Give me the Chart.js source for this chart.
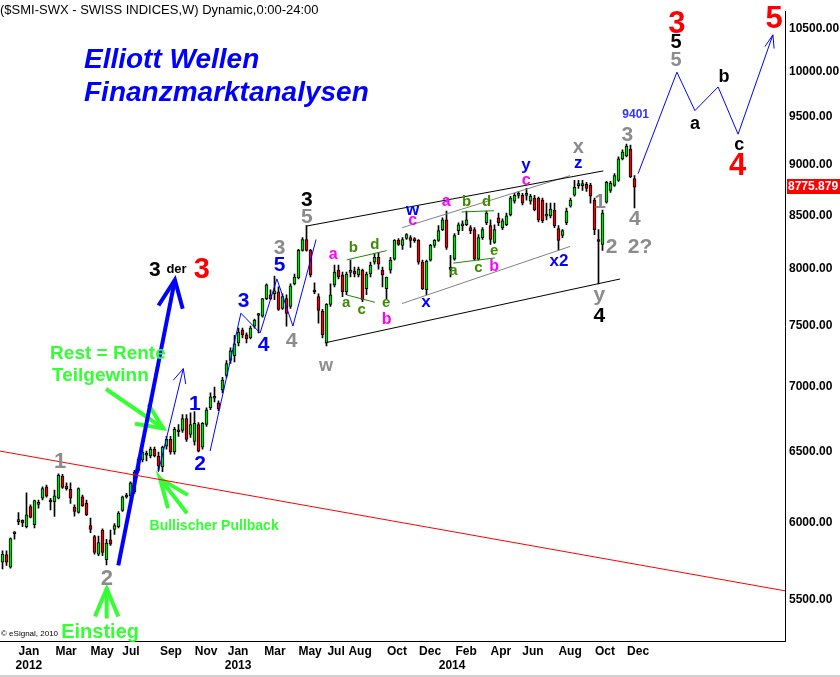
<!DOCTYPE html>
<html>
<head>
<meta charset="utf-8">
<script src="https://cdn.jsdelivr.net/npm/chart.js@4.4.0/dist/chart.umd.min.js"></script>
<style>
  html, body { margin: 0; padding: 0; background: #fff; }
</style>
</head>
<body>
<canvas id="smiChart" width="840" height="677"></canvas>
<script>
// SMI weekly candles, Nov 2011 - Dec 2014
const opens = [5738,5787,5706,5926,6008,6017,5973,6111,5988,6127,6169,6250,6148,6146,6169,6327,6254,6231,6107,6071,
  6180,6134,5981,5907,5791,5951,5755,5885,5955,5973,6084,6178,6187,6215,6367,6443,6477,6472,6522,6472,
  6393,6544,6595,6501,6658,6662,6752,6632,6580,6707,6537,6707,6835,6909,6873,6974,7091,7211,7251,7357,
  7465,7423,7398,7498,7588,7582,7735,7769,7778,7795,7650,7735,7667,7865,7918,8170,8271,8170,7797,7752,
  7624,7357,7684,7856,7989,7945,7795,7969,7980,7945,7989,7822,7954,8061,8106,7989,7822,7989,8088,8262,
  8216,8280,8289,8271,8262,8061,7813,8079,8216,8262,8363,8457,7996,8088,8354,8399,8410,8382,8363,8088,
  8289,8429,8401,8243,8476,8382,8410,8504,8638,8694,8696,8694,8638,8667,8667,8648,8493,8495,8552,8373,
  8308,8429,8590,8696,8791,8791,8803,8793,8648,8271,8225,8629,8744,8793,8842,9062,9093,9164,8862];
const highs = [5813,5813,5898,5940,6070,6021,6208,6123,6157,6157,6250,6262,6169,6226,6343,6338,6278,6278,6123,6243,
  6192,6157,6033,5915,5911,5959,5889,5951,5994,6077,6184,6203,6285,6367,6462,6515,6508,6537,6537,6501,
  6544,6617,6617,6685,6707,6782,6782,6797,6805,6722,6722,6835,6951,6997,6889,7075,7211,7316,7420,7481,
  7481,7440,7498,7557,7607,7735,7865,7813,7936,7839,7778,7769,7865,7954,8179,8289,8401,8179,7874,7778,
  7641,7692,7865,8034,8034,7971,7971,8079,8016,8016,7998,7971,8061,8143,8152,8016,7927,8106,8271,8280,
  8289,8326,8308,8289,8271,8079,8079,8225,8271,8401,8476,8542,8124,8326,8429,8448,8542,8401,8382,8317,
  8382,8542,8457,8410,8523,8466,8523,8686,8715,8734,8715,8764,8705,8696,8677,8667,8619,8619,8619,8401,
  8363,8571,8667,8843,8843,8843,8823,8813,8667,8363,8552,8833,8833,8912,9082,9154,9215,9205,8892];
const lows = [5695,5717,5700,5889,5988,5973,5966,6033,5966,6100,6157,6176,6089,6044,6164,6238,6226,6134,6045,6066,
  6112,6048,5933,5791,5781,5781,5721,5849,5922,5966,6077,6169,6169,6203,6355,6428,6436,6457,6465,6365,
  6357,6522,6486,6486,6617,6647,6580,6610,6551,6501,6522,6692,6820,6881,6812,6951,7075,7187,7200,7332,
  7398,7357,7390,7481,7440,7574,7726,7726,7726,7633,7641,7498,7650,7856,7909,8161,8161,7927,7778,7523,
  7398,7332,7667,7839,7909,7752,7769,7927,7927,7927,7709,7769,7927,8043,7998,7839,7735,7962,8079,8216,
  8179,8271,8197,8243,8043,7813,7769,8070,8197,8252,8354,8179,7927,8079,8317,8354,8401,8326,8079,8079,
  8271,8410,8225,8234,8401,8363,8401,8495,8619,8667,8600,8648,8609,8542,8438,8429,8457,8476,8382,8170,
  8289,8410,8580,8686,8764,8744,8734,8619,8317,7865,8170,8619,8725,8783,8833,9052,9082,8872,8571];
const closes = [5791,5738,5893,5937,6013,5999,6055,6037,6153,6132,6238,6184,6143,6187,6331,6245,6236,6169,6078,6238,
  6116,6055,5955,5802,5867,5802,5863,5856,5981,6066,6180,6183,6278,6355,6450,6501,6481,6522,6472,6400,
  6537,6595,6501,6670,6652,6752,6595,6707,6715,6508,6715,6820,6920,6914,6828,7052,7187,7291,7349,7448,
  7423,7390,7481,7549,7593,7735,7856,7735,7804,7641,7752,7607,7848,7927,8170,8271,8170,7945,7793,7633,
  7423,7684,7769,7971,7927,7795,7954,7973,7954,7998,7726,7954,8034,8106,8043,7945,7927,8079,8262,8225,
  8271,8317,8262,8260,8061,7822,8070,8216,8262,8354,8457,8197,8000,8308,8410,8403,8457,8354,8088,8289,
  8363,8523,8271,8363,8429,8448,8495,8667,8696,8698,8619,8698,8686,8552,8457,8448,8497,8561,8401,8262,
  8354,8542,8648,8774,8795,8795,8764,8686,8363,8252,8523,8823,8813,8892,9062,9133,9195,8882,8775.879];

// axis ticks
const priceTicks = [5500, 6000, 6500, 7000, 7500, 8000, 8500, 9000, 9500, 10000, 10500];
const tickWeeks = [6.6, 15.9, 24.9, 32.1, 42.1, 50.9, 58.9, 68.1, 76.9, 83.4, 89.4, 98.6, 106.9, 112.4, 115.9, 124.6, 132.6, 141.9, 150.6, 158.9];
const monthLabels = ['Jan','Mar','May','Jul','Sep','Nov','Jan','Mar','May','Jul','Aug','Oct','Dec','','Feb','Apr','Jun','Aug','Oct','Dec'];
const yearLabels = ['2012','','','','','','2013','','','','','','','2014','','','','','',''];

// drawn lines, as [week, price] points
const redTrend = [[-0.625, 6508], [195.625, 5555]];
const bigArrow = [[28.95, 5717], [43.1, 7900]];
const bigArrowHead = [[39.0, 7675], [43.1, 7900], [45.05, 7646]];
const thinArrow = [[38.95, 6355], [45.2, 7145]];
const thinArrowHead = [[42.7, 7052], [45.2, 7145], [45.8, 7021]];
const waveZigzag = [[51.9, 6508], [59.6, 7608], [64.4, 7440], [68.6, 7910], [72.6, 7498], [78.4, 8271]];
const projection = [[158.9, 8912], [168.6, 9997], [173.1, 9571], [178.9, 9831], [183.9, 9319], [192.6, 10429]];
const projectionHead = [[190.6, 10291], [192.6, 10429], [192.9, 10268]];
const channelTop = [[76.05, 8398], [150.2, 8939]];
const channelBottom = [[80.6, 7357], [154.4, 7909]];
const greyTop = [[99.9, 8382], [141.9, 8892]];
const greyBottom = [[99.9, 7692], [141.9, 8206]];
const triangleLines = [
  [[86.05, 8082], [96.05, 8167]],
  [[86.05, 7767], [93.1, 7703]],
  [[112.7, 8052], [123.1, 8100]],
  [[114.8, 8533], [122.9, 8545]]
];
const restArrow = [[25.875, 6982], [40.2, 6677]];
const restArrowHead = [[36.45, 6863], [40.2, 6677], [33.125, 6712]];
const pullbackArrowA = [[41.375, 6100], [39.375, 6308], [46.125, 6066]];
const pullbackArrowB = [[39.375, 6308], [46.375, 6191]];
const entryArrow = [[26.05, 5384], [26.05, 5569]];
const entryArrowHead = [[23.125, 5396], [26.05, 5569], [28.95, 5396]];

const GREY = '#8c8c8c', BLUE = '#0000ff', MAG = '#ff00ff', OLIVE = '#3c8c00', LIME = '#33ff33', RED = '#ff0000', BLACK = '#000';

// wave labels: text, week, price, colour, size
const waveLabels = [
  ['1', 14.4, 6428, GREY, 22], ['2', 26.1, 5630, GREY, 22],
  ['Einstieg', 24.4, 5301, LIME, 20], ['Bullischer Pullback', 52.9, 5979, LIME, 14],
  ['3', 38.1, 7989, BLACK, 21], ['der', 43.5, 7998, BLACK, 13], ['3', 49.8, 7989, RED, 29],
  ['1', 48.1, 6862, BLUE, 21], ['2', 49.4, 6414, BLUE, 21], ['3', 60.25, 7714, BLUE, 21],
  ['4', 65.25, 7336, BLUE, 21], ['5', 69.25, 8034, BLUE, 21],
  ['3', 69.25, 8192, GREY, 21], ['4', 72.25, 7373, GREY, 21], ['5', 76.1, 8486, GREY, 21], ['3', 76.1, 8648, BLACK, 21],
  ['w', 80.9, 7163, GREY, 18],
  ['a', 82.7, 8133, MAG, 16], ['b', 96.05, 7556, MAG, 16], ['c', 102.55, 8454, MAG, 16],
  ['a', 110.9, 8635, MAG, 16], ['b', 122.9, 8022, MAG, 16], ['c', 130.9, 8838, MAG, 16],
  ['b', 87.7, 8197, OLIVE, 15], ['d', 93.1, 8219, OLIVE, 15], ['a', 85.9, 7700, OLIVE, 15],
  ['c', 89.8, 7639, OLIVE, 15], ['e', 95.9, 7694, OLIVE, 15],
  ['b', 116.05, 8635, OLIVE, 15], ['d', 121.05, 8635, OLIVE, 15], ['a', 112.7, 7986, OLIVE, 15],
  ['c', 118.95, 8007, OLIVE, 15], ['e', 122.9, 8167, OLIVE, 15],
  ['w', 102.55, 8545, BLUE, 17], ['x', 105.9, 7703, BLUE, 17], ['y', 130.9, 8994, BLUE, 17],
  ['z', 143.95, 9019, BLUE, 17], ['x2', 139.1, 8068, BLUE, 17],
  ['x', 143.95, 9175, GREY, 20], ['1', 149.4, 8629, GREY, 21], ['2', 152.3, 8197, GREY, 21],
  ['y', 149.2, 7767, GREY, 21], ['4', 149.2, 7582, BLACK, 21],
  ['3', 156.2, 9310, GREY, 21], ['4', 158.1, 8460, GREY, 21], ['2?', 159.4, 8197, GREY, 21],
  ['9401', 158.3, 9529, '#3333ff', 12],
  ['a', 173.1, 9423, BLACK, 18], ['b', 180.4, 9941, BLACK, 18], ['c', 184.2, 9208, BLACK, 18],
  ['4', 183.8, 8980, RED, 31],
  ['5', 168.4, 10337, BLACK, 20], ['5', 168.4, 10131, GREY, 20], ['3', 168.6, 10558, RED, 31],
  ['5', 192.9, 10617, RED, 31]
];
const leftLabels = [
  ['Rest = Rente', 11.9, 7267, LIME, 19],
  ['Teilgewinn', 12.375, 7091, LIME, 19]
];

const FONT = "Arial, 'Liberation Sans', sans-serif";
const weekIdx = opens.map((_, k) => k);

function pts(list) { return list.map(p => ({ x: p[0], y: p[1] })); }
function lineSet(list, color, width) {
  return { type: 'line', data: pts(list), borderColor: color, borderWidth: width, pointRadius: 0, fill: false, tension: 0, order: 0 };
}

const lineSets = [
  lineSet(redTrend, RED, 1),
  lineSet(bigArrow, BLUE, 4), lineSet(bigArrowHead, BLUE, 4),
  lineSet(thinArrow, BLUE, 1), lineSet(thinArrowHead, BLUE, 1),
  lineSet(waveZigzag, BLUE, 1),
  lineSet(projection, BLUE, 1), lineSet(projectionHead, BLUE, 1),
  lineSet(channelTop, BLACK, 1), lineSet(channelBottom, BLACK, 1),
  lineSet(greyTop, '#808080', 1), lineSet(greyBottom, '#808080', 1),
  ...triangleLines.map(l => lineSet(l, '#1a8a00', 1)),
  lineSet(restArrow, LIME, 4), lineSet(restArrowHead, LIME, 4),
  lineSet(pullbackArrowA, LIME, 4), lineSet(pullbackArrowB, LIME, 4),
  lineSet(entryArrow, LIME, 4), lineSet(entryArrowHead, LIME, 4)
];

const annotations = {
  id: 'annotations',
  afterDatasetsDraw(chart) {
    const { ctx, scales: { x, y } } = chart;
    ctx.save();
    ctx.textBaseline = 'middle';
    ctx.textAlign = 'center';
    waveLabels.forEach(([t, w, p, c, s]) => {
      ctx.font = `bold ${s}px ${FONT}`;
      ctx.fillStyle = c;
      ctx.fillText(t, x.getPixelForValue(w), y.getPixelForValue(p));
    });
    ctx.textAlign = 'left';
    leftLabels.forEach(([t, w, p, c, s]) => {
      ctx.font = `bold ${s}px ${FONT}`;
      ctx.fillStyle = c;
      ctx.fillText(t, x.getPixelForValue(w), y.getPixelForValue(p));
    });
    ctx.restore();
  },
  afterDraw(chart) {
    const { ctx, scales: { y } } = chart;
    ctx.save();
    ctx.textBaseline = 'middle';
    ctx.textAlign = 'left';
    ctx.fillStyle = '#000';
    ctx.font = `13px ${FONT}`;
    ctx.fillText('($SMI-SWX - SWISS INDICES,W) Dynamic,0:00-24:00', 0, 10);
    ctx.fillStyle = BLUE;
    ctx.font = `italic bold 28px ${FONT}`;
    ctx.fillText('Elliott Wellen', 84, 60);
    ctx.fillText('Finanzmarktanalysen', 84, 93);
    ctx.fillStyle = '#000';
    ctx.font = `8px ${FONT}`;
    ctx.fillText('\u00a9 eSignal, 2010', 1, 634);

    // last price box
    const last = closes[closes.length - 1];
    const py = Math.round(y.getPixelForValue(last));
    ctx.fillStyle = RED;
    ctx.fillRect(787, py - 8, 53, 15);
    ctx.fillStyle = '#fff';
    ctx.font = `bold 12px ${FONT}`;
    ctx.fillText(last.toFixed(3), 788, py);

    ctx.fillStyle = '#d0d0d0';
    ctx.fillRect(0, 675, 840, 2);
    ctx.restore();
  }
};

new Chart(document.getElementById('smiChart'), {
  type: 'bar',
  data: {
    datasets: [
      ...lineSets,
      {
        label: 'Body',
        data: weekIdx.map(k => ({ x: k, y: [Math.min(opens[k], closes[k]), Math.max(opens[k], closes[k])] })),
        backgroundColor: weekIdx.map(k => closes[k] >= opens[k] ? '#00dd00' : '#ee0000'),
        borderColor: '#000',
        borderWidth: 1,
        borderSkipped: false,
        barThickness: 3,
        minBarLength: 2,
        order: 1
      },
      {
        label: 'Wick',
        data: weekIdx.map(k => ({ x: k, y: [lows[k], highs[k]] })),
        backgroundColor: '#000',
        borderWidth: 0,
        barThickness: 1,
        order: 2
      }
    ]
  },
  options: {
    responsive: false,
    animation: false,
    layout: { padding: 0 },
    datasets: { bar: { grouped: false } },
    plugins: { legend: { display: false }, tooltip: { enabled: false } },
    scales: {
      x: {
        type: 'linear',
        min: -0.625,
        max: 195.625,
        offset: false,
        grid: { display: false, drawTicks: false, offset: false },
        border: { display: true, color: '#000', width: 1 },
        afterBuildTicks: s => { s.ticks = tickWeeks.map(v => ({ value: v })); },
        afterFit: s => { s.height = 36; },
        ticks: {
          autoSkip: false,
          maxRotation: 0,
          padding: 3,
          color: '#000',
          font: { family: FONT, size: 12, weight: 'bold' },
          callback: (v, i) => yearLabels[i] ? [monthLabels[i], yearLabels[i]] : monthLabels[i]
        }
      },
      y: {
        type: 'logarithmic',
        position: 'right',
        min: 5248,
        max: 10712,
        grid: { display: false, drawTicks: false },
        border: { display: true, color: '#000', width: 1 },
        afterBuildTicks: s => { s.ticks = priceTicks.map(v => ({ value: v })); },
        afterFit: s => { s.width = 55; },
        ticks: {
          padding: 4,
          color: '#000',
          font: { family: FONT, size: 12, weight: 'bold' },
          callback: v => Number(v).toFixed(2)
        }
      }
    }
  },
  plugins: [annotations]
});
</script>
</body>
</html>
